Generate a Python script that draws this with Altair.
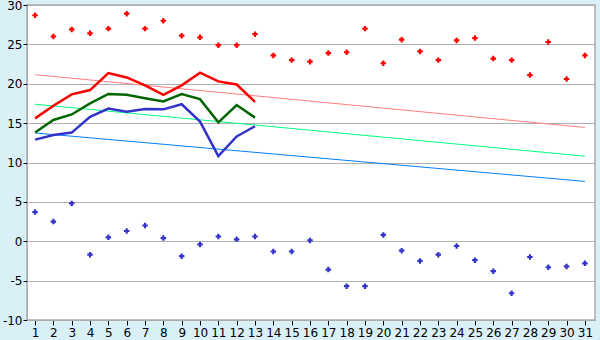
import altair as alt
import pandas as pd

days = list(range(1, 32))
max_points = [28.7, 26.0, 26.9, 26.4, 27.0, 28.9, 27.0, 28.0, 26.1, 25.9,
              24.9, 24.9, 26.3, 23.6, 23.0, 22.8, 23.9, 24.0, 27.0, 22.6,
              25.6, 24.1, 23.0, 25.5, 25.8, 23.2, 23.0, 21.1, 25.3, 20.6, 23.6]
min_points = [3.7, 2.5, 4.8, -1.7, 0.5, 1.3, 2.0, 0.4, -1.9, -0.4,
              0.6, 0.25, 0.6, -1.3, -1.3, 0.1, -3.6, -5.7, -5.7, 0.8,
              -1.2, -2.5, -1.7, -0.6, -2.4, -3.8, -6.6, -2.0, -3.3, -3.2, -2.8]

line_days = list(range(1, 14))
max_line = [15.6, 17.2, 18.65, 19.2, 21.35, 20.8, 19.8, 18.6, 19.8, 21.4, 20.3, 19.9, 17.7]
mean_line = [13.8, 15.4, 16.1, 17.5, 18.7, 18.6, 18.15, 17.75, 18.7, 18.05, 15.1, 17.3, 15.7]
min_line = [12.9, 13.5, 13.8, 15.8, 16.85, 16.45, 16.8, 16.75, 17.4, 15.2, 10.8, 13.3, 14.6]

trend_days = [1, 31]
max_trend = [21.15, 14.45]
mean_trend = [17.4, 10.8]
min_trend = [13.75, 7.6]

pts = pd.DataFrame({"day": days, "max": max_points, "min": min_points})
lines = pd.DataFrame({"day": line_days, "max": max_line, "mean": mean_line, "min": min_line})
trends = pd.DataFrame({"day": trend_days, "max": max_trend, "mean": mean_trend, "min": min_trend})

xs = alt.Scale(domain=[0.56, 31.55], nice=False, zero=False)
ys = alt.Scale(domain=[-10, 30], nice=False)

xax = alt.Axis(values=days, title=None, grid=False, tickSize=5, tickColor="#000000",
               domainColor="#aaaaaa", labelFontSize=12, labelColor="#000000",
               labelPadding=2, labelFont="DejaVu Sans")
yax = alt.Axis(values=list(range(-10, 31, 5)), title=None, grid=True, gridColor="#b0b0b0",
               tickSize=4, tickColor="#000000", domainColor="#aaaaaa", labelFontSize=12,
               labelColor="#000000", labelPadding=1, labelFont="DejaVu Sans",
               labelExpr="replace(datum.label, '\u2212', '-')")

def X():
    return alt.X("day:Q", scale=xs, axis=xax)

def Y(col):
    return alt.Y(f"{col}:Q", scale=ys, axis=yax)

layers = []
for col, color in [("max", "#ff8080"), ("mean", "#00ff80"), ("min", "#0080ff")]:
    layers.append(alt.Chart(trends).mark_line(color=color, strokeWidth=1).encode(x=X(), y=Y(col)))
for col, color in [("max", "#ff0000"), ("mean", "#006600"), ("min", "#3333cc")]:
    layers.append(alt.Chart(lines).mark_line(color=color, strokeWidth=2.5).encode(x=X(), y=Y(col)))
layers.append(alt.Chart(pts).mark_point(shape="cross", filled=True, size=30, color="#ff0000", opacity=1)
              .encode(x=X(), y=Y("max")))
layers.append(alt.Chart(pts).mark_point(shape="cross", filled=True, size=30, color="#3333cc", opacity=1)
              .encode(x=X(), y=Y("min")))

chart = alt.layer(*layers).properties(
    width=568, height=315,
    background="#daf0f7",
    padding={"left": 27, "top": 5, "right": 5, "bottom": 20},
    autosize=alt.AutoSizeParams(type="none"),
).configure_view(fill="#ffffff", stroke="#aaaaaa", strokeWidth=1.5)

chart.save("out.html", embed_options={"renderer": "svg", "actions": False})
